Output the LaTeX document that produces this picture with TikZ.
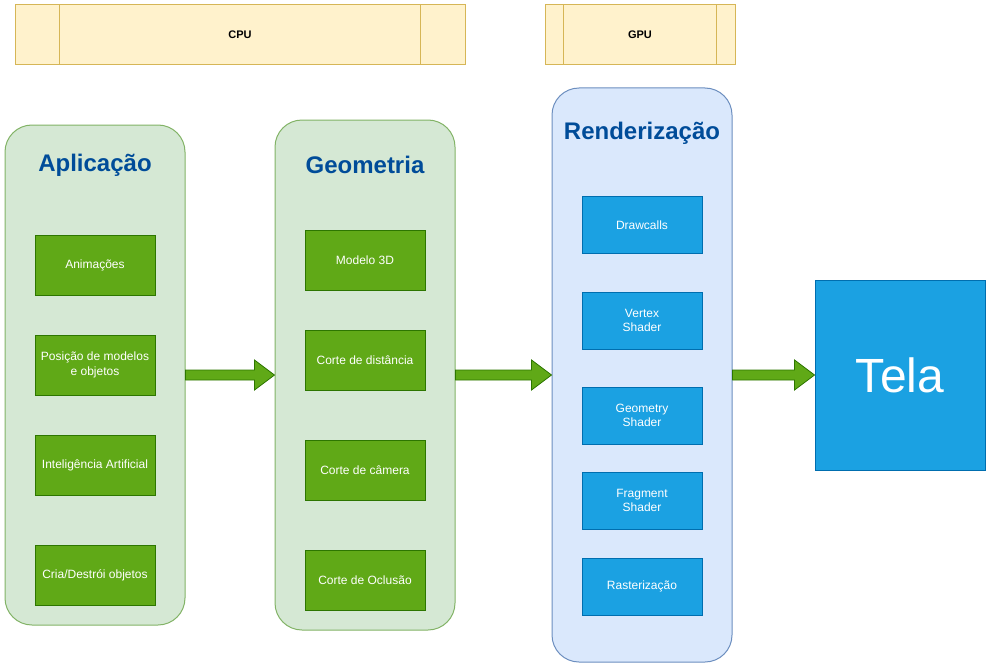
\documentclass[tikz,border=0pt]{standalone}
\usepackage{fontspec}
\setmainfont{Liberation Sans}
\usetikzlibrary{calc}

\definecolor{barfill}{HTML}{FFF2CC}
\definecolor{barline}{HTML}{D6B656}
\definecolor{appfill}{HTML}{D5E8D4}
\definecolor{appline}{HTML}{82B366}
\definecolor{rendfill}{HTML}{DAE8FC}
\definecolor{rendline}{HTML}{6C8EBF}
\definecolor{grnfill}{HTML}{60A917}
\definecolor{grnline}{HTML}{2D7600}
\definecolor{bluefill}{HTML}{1BA1E2}
\definecolor{blueline}{HTML}{006EAF}
\definecolor{titlecol}{HTML}{004C99}

\tikzset{
  procbar/.style={draw=barline, fill=barfill, line width=1pt, inner sep=0pt,
    font=\fontsize{11}{13}\selectfont\bfseries},
  stage/.style={draw=#1line, fill=#1fill, line width=1pt, rounded corners=27pt,
    minimum width=180, inner sep=0pt},
  stagetitle/.style={text=titlecol, font=\fontsize{24}{28}\selectfont\bfseries},
  grnbox/.style={draw=grnline, fill=grnfill, line width=1pt, text=white,
    minimum width=120, minimum height=60, align=center, inner sep=0pt,
    font=\fontsize{12}{14.5}\selectfont},
  bluebox/.style={grnbox, draw=blueline, fill=bluefill, minimum height=57},
  blockarrow/.style={draw=grnline, fill=grnfill, line width=0.8pt, line join=miter}
}

\newcommand{\blockarrow}[2]{%
  \draw[blockarrow] let \p1=(#1.east), \p2=(#2.west) in
    (\x1,{\y1+5pt}) -- ({\x2-20pt},{\y1+5pt}) -- ({\x2-20pt},{\y1+15pt}) -- (\x2,\y1)
    -- ({\x2-20pt},{\y1-15pt}) -- ({\x2-20pt},{\y1-5pt}) -- (\x1,{\y1-5pt}) -- cycle;}

\begin{document}
\begin{tikzpicture}[x=1pt, y=-1pt]
\useasboundingbox (0,0) rectangle (991,669);

% CPU / GPU bars
\node (cpu) [procbar, minimum width=450, minimum height=60] at (240,35) {CPU};
\draw[barline, line width=1pt] ([xshift=45]cpu.north west) -- ([xshift=45]cpu.south west);
\draw[barline, line width=1pt] ([xshift=-45]cpu.north east) -- ([xshift=-45]cpu.south east);

\node (gpu) [procbar, minimum width=190, minimum height=60] at (640,35) {GPU};
\draw[barline, line width=1pt] ([xshift=19]gpu.north west) -- ([xshift=19]gpu.south west);
\draw[barline, line width=1pt] ([xshift=-19]gpu.north east) -- ([xshift=-19]gpu.south east);

% stages
\node (app) [stage=app, minimum height=500] at (95,375) {};
\node (geo) [stage=app, minimum height=510] at (365,375) {};
\node (rend) [stage=rend, minimum height=574] at (642,375) {};

\node (appt) [stagetitle] at (95,165) {Aplicação};
\node (geot) [stagetitle] at (365,165) {Geometria};
\node (rendt) [stagetitle] at (642,133) {Renderização};

% Aplicação
\node (anim) [grnbox] at (95,265) {Animações};
\node (pos) [grnbox] at (95,365) {Posição de modelos\\e objetos};
\node (ia) [grnbox] at (95,465) {Inteligência Artificial};
\node (cria) [grnbox] at (95,575) {Cria/Destrói objetos};

% Geometria
\node (mod) [grnbox] at (365,260) {Modelo 3D};
\node (dist) [grnbox] at (365,360) {Corte de distância};
\node (cam) [grnbox] at (365,470) {Corte de câmera};
\node (ocl) [grnbox] at (365,580) {Corte de Oclusão};

% Renderização
\node (draw) [bluebox] at (642,225) {Drawcalls};
\node (vert) [bluebox] at (642,320.5) {Vertex\\Shader};
\node (geom) [bluebox] at (642,415.5) {Geometry\\Shader};
\node (frag) [bluebox] at (642,500.5) {Fragment\\Shader};
\node (rast) [bluebox] at (642,586.5) {Rasterização};

% Tela
\node (tela) [bluebox, minimum width=170, minimum height=190,
  font=\fontsize{48}{56}\selectfont] at (900,375) {Tela};

\blockarrow{app}{geo}
\blockarrow{geo}{rend}
\blockarrow{rend}{tela}

\end{tikzpicture}
\end{document}
